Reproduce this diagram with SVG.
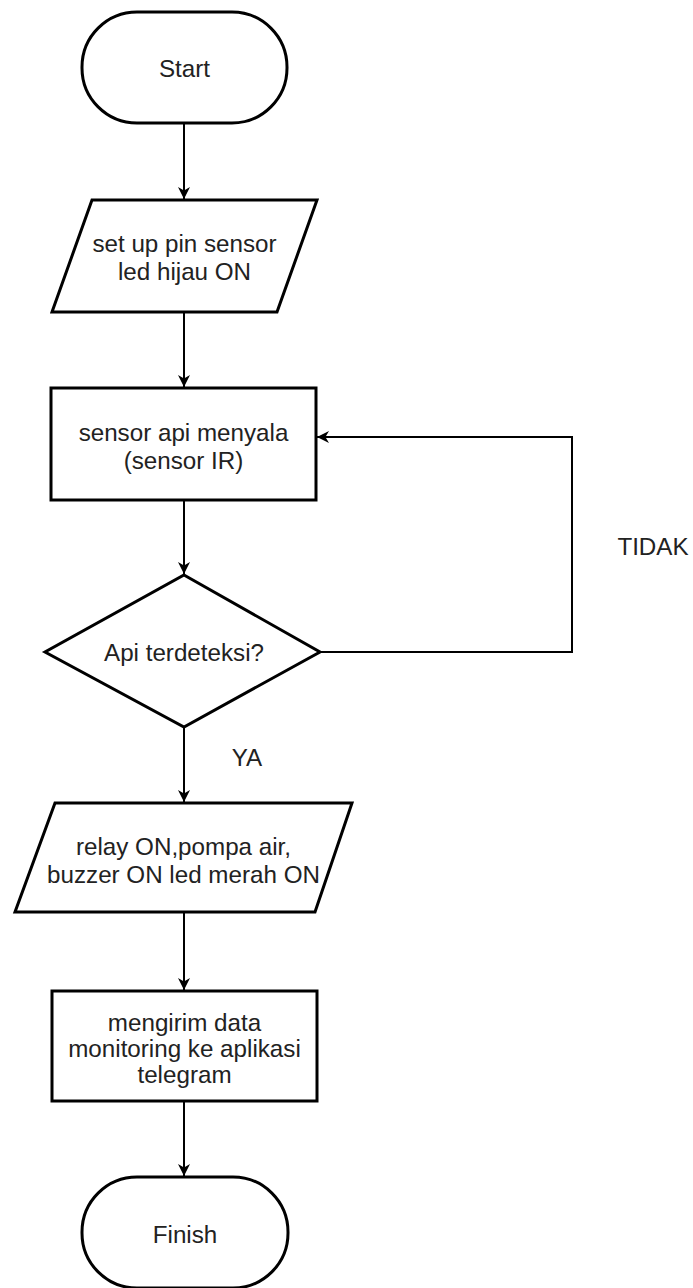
<svg xmlns="http://www.w3.org/2000/svg" width="693" height="1288" viewBox="0 0 693 1288">
  <style>
    .shape { fill: #ffffff; stroke: #000000; stroke-width: 3; }
    .conn { fill: none; stroke: #000000; stroke-width: 2; }
    .lbl { font-family: "Liberation Sans", Arial, sans-serif; font-size: 24.2px; fill: #222222; text-anchor: middle; dominant-baseline: central; }
  </style>
  <defs>
    <marker id="arrow" viewBox="0 0 10 10" refX="10" refY="5" markerWidth="12" markerHeight="12" markerUnits="userSpaceOnUse" orient="auto">
      <path d="M0,0 L10,5 L0,10 L3,5 Z" fill="#000000"/>
    </marker>
  </defs>
  <rect width="693" height="1288" fill="#ffffff"/>

  <g id="connectors">
    <line class="conn" x1="184" y1="123" x2="184" y2="199" marker-end="url(#arrow)"/>
    <line class="conn" x1="184" y1="312" x2="184" y2="387" marker-end="url(#arrow)"/>
    <line class="conn" x1="184" y1="500" x2="184" y2="574" marker-end="url(#arrow)"/>
    <line class="conn" x1="184" y1="726" x2="184" y2="802" marker-end="url(#arrow)"/>
    <line class="conn" x1="184" y1="912" x2="184" y2="990" marker-end="url(#arrow)"/>
    <line class="conn" x1="184" y1="1101" x2="184" y2="1176" marker-end="url(#arrow)"/>
    <polyline class="conn" points="320,652 572,652 572,437 317,437" marker-end="url(#arrow)"/>
    <text class="lbl" x="653" y="546">TIDAK</text>
    <text class="lbl" x="247" y="757">YA</text>
  </g>

  <g id="start">
    <rect class="shape" x="82" y="12" width="205" height="111" rx="55" ry="55"/>
    <text class="lbl" x="184.5" y="68">Start</text>
  </g>

  <g id="setup">
    <polygon class="shape" points="92,200 317,200 277,312 52,312"/>
    <text class="lbl" x="184.5" y="243">set up pin sensor</text>
    <text class="lbl" x="184.5" y="271">led hijau ON</text>
  </g>

  <g id="sensor">
    <rect class="shape" x="51" y="388" width="265" height="112"/>
    <text class="lbl" x="183.5" y="432">sensor api menyala</text>
    <text class="lbl" x="183.5" y="460">(sensor IR)</text>
  </g>

  <g id="decision">
    <polygon class="shape" points="184,575 320,652 184,727 45,652"/>
    <text class="lbl" x="184" y="652">Api terdeteksi?</text>
  </g>

  <g id="relay">
    <polygon class="shape" points="55,803 352,803 315,912 15,912"/>
    <text class="lbl" x="183.5" y="846">relay ON,pompa air,</text>
    <text class="lbl" x="183.5" y="874">buzzer ON led merah ON</text>
  </g>

  <g id="kirim">
    <rect class="shape" x="52" y="991" width="265" height="110"/>
    <text class="lbl" x="184.5" y="1022">mengirim data</text>
    <text class="lbl" x="184.5" y="1048">monitoring ke aplikasi</text>
    <text class="lbl" x="184.5" y="1074">telegram</text>
  </g>

  <g id="finish">
    <rect class="shape" x="82" y="1177" width="206" height="111" rx="55" ry="55"/>
    <text class="lbl" x="185" y="1234">Finish</text>
  </g>
</svg>
